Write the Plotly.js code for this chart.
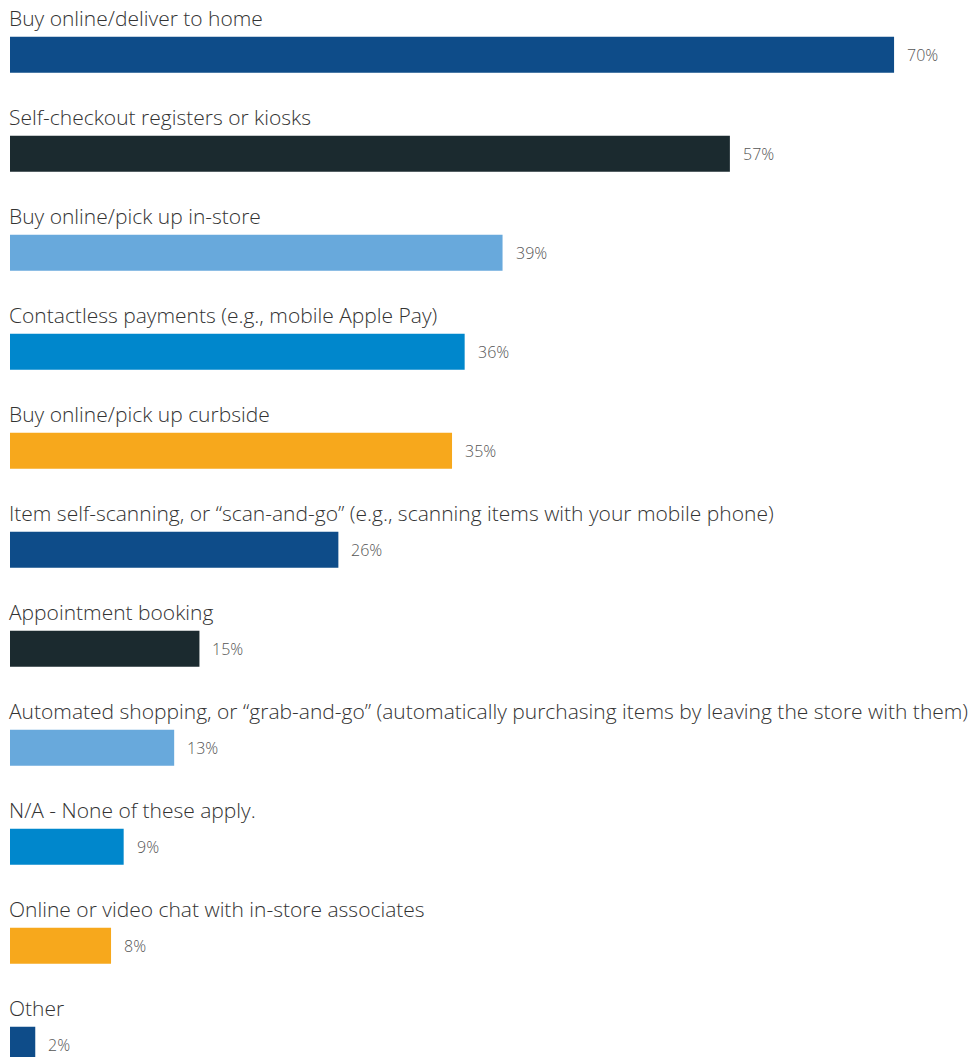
<!DOCTYPE html>
<html>
<head>
<meta charset="utf-8">
<script src="https://cdn.plot.ly/plotly-3.0.1.min.js"></script>
<style>html,body{margin:0;padding:0;background:#fff;}#chart{width:973px;height:1057px;}</style>
</head>
<body>
<div id="chart"></div>
<script>
const categories = [
  "Buy online/deliver to home",
  "Self-checkout registers or kiosks",
  "Buy online/pick up in-store",
  "Contactless payments (e.g., mobile Apple Pay)",
  "Buy online/pick up curbside",
  "Item self-scanning, or \u201cscan-and-go\u201d (e.g., scanning items with your mobile phone)",
  "Appointment booking",
  "Automated shopping, or \u201cgrab-and-go\u201d (automatically purchasing items by leaving the store with them)",
  "N/A - None of these apply.",
  "Online or video chat with in-store associates",
  "Other"
];
const values = [70, 57, 39, 36, 35, 26, 15, 13, 9, 8, 2];
const barColors = ["#0e4c89", "#1b2a2f", "#68a9dc", "#0087cc", "#f7a81c",
                   "#0e4c89", "#1b2a2f", "#68a9dc", "#0087cc", "#f7a81c", "#0e4c89"];

const positions = categories.map((_, i) => i);

const trace = {
  type: "bar",
  orientation: "h",
  x: values,
  y: positions,
  width: 0.365,
  marker: { color: barColors },
  hoverinfo: "skip"
};

const annotations = [];
categories.forEach((c, i) => {
  annotations.push({
    x: 0, y: i - 0.372, xref: "x", yref: "y",
    text: c, showarrow: false, xanchor: "left", yanchor: "middle",
    xshift: -3,
    font: { family: "Open Sans, sans-serif", size: 21, weight: 300, color: "#333333" }
  });
  annotations.push({
    x: values[i], y: i, xref: "x", yref: "y",
    text: values[i] + "%", showarrow: false, xanchor: "left", yanchor: "middle",
    xshift: 11,
    font: { family: "Open Sans, sans-serif", size: 16, weight: 300, color: "#555555" }
  });
});

const layout = {
  width: 973, height: 1057,
  margin: { l: 10, r: 0, t: 0, b: 0 },
  paper_bgcolor: "#ffffff", plot_bgcolor: "#ffffff",
  showlegend: false,
  xaxis: { range: [0, 76.25], visible: false, fixedrange: true },
  yaxis: { range: [10.124, -0.5525], visible: false, fixedrange: true },
  annotations: annotations
};

Plotly.newPlot("chart", [trace], layout, { displayModeBar: false, staticPlot: true });
</script>
</body>
</html>
